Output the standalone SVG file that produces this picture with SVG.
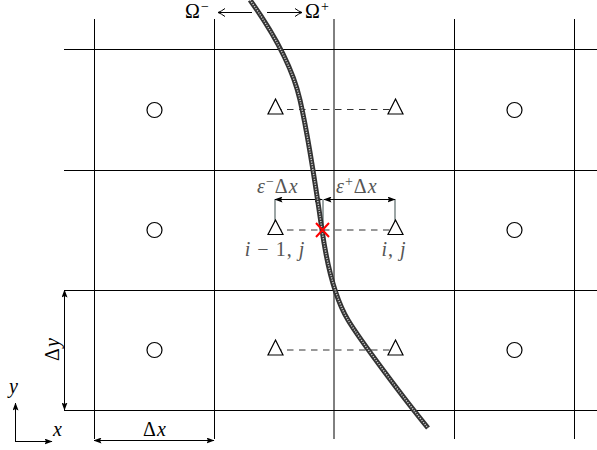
<svg xmlns="http://www.w3.org/2000/svg" width="597" height="450" viewBox="0 0 597 450">
<style>
.g{stroke:#000;stroke-width:1;fill:none}
.c{stroke:#000;stroke-width:1.2;fill:none}
.t{stroke:#000;stroke-width:1.2;fill:#fff}
.d{stroke:#333;stroke-width:1.2;stroke-dasharray:6.5 5.5;fill:none}
.ext{stroke:#5a6a6a;stroke-width:1.2;fill:none}
.tx{font-family:'Liberation Serif','DejaVu Serif',serif;font-size:20px;letter-spacing:1px;fill:#000}
.it{font-style:italic}
.lbl{fill:#555}
</style>
<defs>
<marker id="ah" viewBox="0 0 8 6" refX="7.5" refY="3" markerWidth="8" markerHeight="6" markerUnits="userSpaceOnUse" orient="auto-start-reverse">
<path d="M0,0 L8,3 L0,6 L1.5,3 z" fill="#000"/>
</marker>
<marker id="oh" viewBox="0 0 10 10" refX="9" refY="5" markerWidth="10" markerHeight="10" markerUnits="userSpaceOnUse" orient="auto">
<path d="M2,1 Q6,4 9,5 Q6,6 2,9" fill="none" stroke="#000" stroke-width="1"/>
</marker>
</defs>
<g id="grid">
<line class="g" x1="94.5" y1="19" x2="94.5" y2="439"/>
<line class="g" x1="214.5" y1="19" x2="214.5" y2="439"/>
<line class="g" x1="334" y1="19" x2="334" y2="439"/>
<line class="g" x1="454.5" y1="19" x2="454.5" y2="439"/>
<line class="g" x1="574.5" y1="19" x2="574.5" y2="439"/>
<line class="g" x1="64" y1="49.5" x2="597" y2="49.5"/>
<line class="g" x1="64" y1="170.5" x2="597" y2="170.5"/>
<line class="g" x1="64" y1="290.5" x2="597" y2="290.5"/>
<line class="g" x1="64" y1="410.5" x2="597" y2="410.5"/>
</g>
<g id="connectors">
<line class="d" x1="275" y1="109.5" x2="395" y2="109.5"/>
<line class="d" x1="275" y1="230" x2="395" y2="230"/>
<line class="d" x1="275" y1="350" x2="395" y2="350"/>
<line class="ext" x1="275" y1="222" x2="275" y2="199"/>
<line class="ext" x1="395" y1="222" x2="395" y2="199"/>
<line class="ext" x1="323" y1="230" x2="323" y2="199"/>
<line stroke="#000" stroke-width="1" x1="275" y1="199.5" x2="322" y2="199.5" marker-start="url(#ah)" marker-end="url(#ah)"/>
<line stroke="#000" stroke-width="1" x1="324" y1="199.5" x2="395" y2="199.5" marker-start="url(#ah)" marker-end="url(#ah)"/>
<line stroke="#000" stroke-width="1" x1="94" y1="440.5" x2="214" y2="440.5" marker-start="url(#ah)" marker-end="url(#ah)"/>
<line stroke="#000" stroke-width="1" x1="64.5" y1="290" x2="64.5" y2="410" marker-start="url(#ah)" marker-end="url(#ah)"/>
<line stroke="#000" stroke-width="1" x1="15.5" y1="441" x2="15.5" y2="403" marker-end="url(#ah)"/>
<line stroke="#000" stroke-width="1" x1="15" y1="441.5" x2="52" y2="441.5" marker-end="url(#ah)"/>
<line stroke="#000" stroke-width="1" x1="252" y1="12.5" x2="218" y2="12.5" marker-end="url(#oh)"/>
<line stroke="#000" stroke-width="1" x1="267" y1="12.5" x2="302" y2="12.5" marker-end="url(#oh)"/>
</g>
<g id="interface">
<path d="M250,0 C270,28 292,65 300,100 C308,135 317,195 322,230 C327,265 336,300 348,320 C360,340 405,400 428,428" fill="none" stroke="#333" stroke-width="5"/>
<path d="M250,0 C270,28 292,65 300,100 C308,135 317,195 322,230 C327,265 336,300 348,320 C360,340 405,400 428,428" fill="none" stroke="#ccc" stroke-width="1.5" stroke-dasharray="1.2 1.3"/>
</g>
<g id="c1"><circle class="c" cx="154.5" cy="110" r="7.5"/></g>
<g id="c2"><circle class="c" cx="154.5" cy="230" r="7.5"/></g>
<g id="c3"><circle class="c" cx="154.5" cy="350" r="7.5"/></g>
<g id="c4"><circle class="c" cx="514.5" cy="110" r="7.5"/></g>
<g id="c5"><circle class="c" cx="514.5" cy="230" r="7.5"/></g>
<g id="c6"><circle class="c" cx="514.5" cy="350" r="7.5"/></g>
<g id="t1"><path class="t" d="M275.5,99 L283,114 L268,114 z"/></g>
<g id="t2"><path class="t" d="M395.5,99 L403,114 L388,114 z"/></g>
<g id="t3"><path class="t" d="M275.5,220 L283,234.5 L268,234.5 z"/></g>
<g id="t4"><path class="t" d="M395.5,220 L403,234.5 L388,234.5 z"/></g>
<g id="t5"><path class="t" d="M275.5,340 L283,355 L268,355 z"/></g>
<g id="t6"><path class="t" d="M395.5,340 L403,355 L388,355 z"/></g>
<g id="cross">
<path d="M316,223 L329,237 M329,223 L316,237" stroke="#f00" stroke-width="2" fill="none"/>
</g>
<g id="labels">
<text class="tx" x="185" y="18">Ω<tspan font-size="14" dy="-7">−</tspan></text>
<text class="tx" x="305" y="18">Ω<tspan font-size="14" dy="-7">+</tspan></text>
<text class="tx lbl" x="257" y="193"><tspan class="it">ε</tspan><tspan font-size="14" dy="-7">−</tspan><tspan dy="7">Δ</tspan><tspan class="it">x</tspan></text>
<text class="tx lbl" x="336" y="193"><tspan class="it">ε</tspan><tspan font-size="14" dy="-7">+</tspan><tspan dy="7">Δ</tspan><tspan class="it">x</tspan></text>
<text class="tx lbl" x="275" y="256" text-anchor="middle"><tspan class="it">i</tspan> − 1, <tspan class="it">j</tspan></text>
<text class="tx lbl" x="394" y="256" text-anchor="middle"><tspan class="it">i</tspan>, <tspan class="it">j</tspan></text>
<text class="tx" x="155" y="436" text-anchor="middle">Δ<tspan class="it">x</tspan></text>
<text class="tx" transform="translate(59,349) rotate(-90)" text-anchor="middle">Δ<tspan class="it">y</tspan></text>
<text class="tx it" x="9" y="393">y</text>
<text class="tx it" x="53" y="436">x</text>
</g>
</svg>
